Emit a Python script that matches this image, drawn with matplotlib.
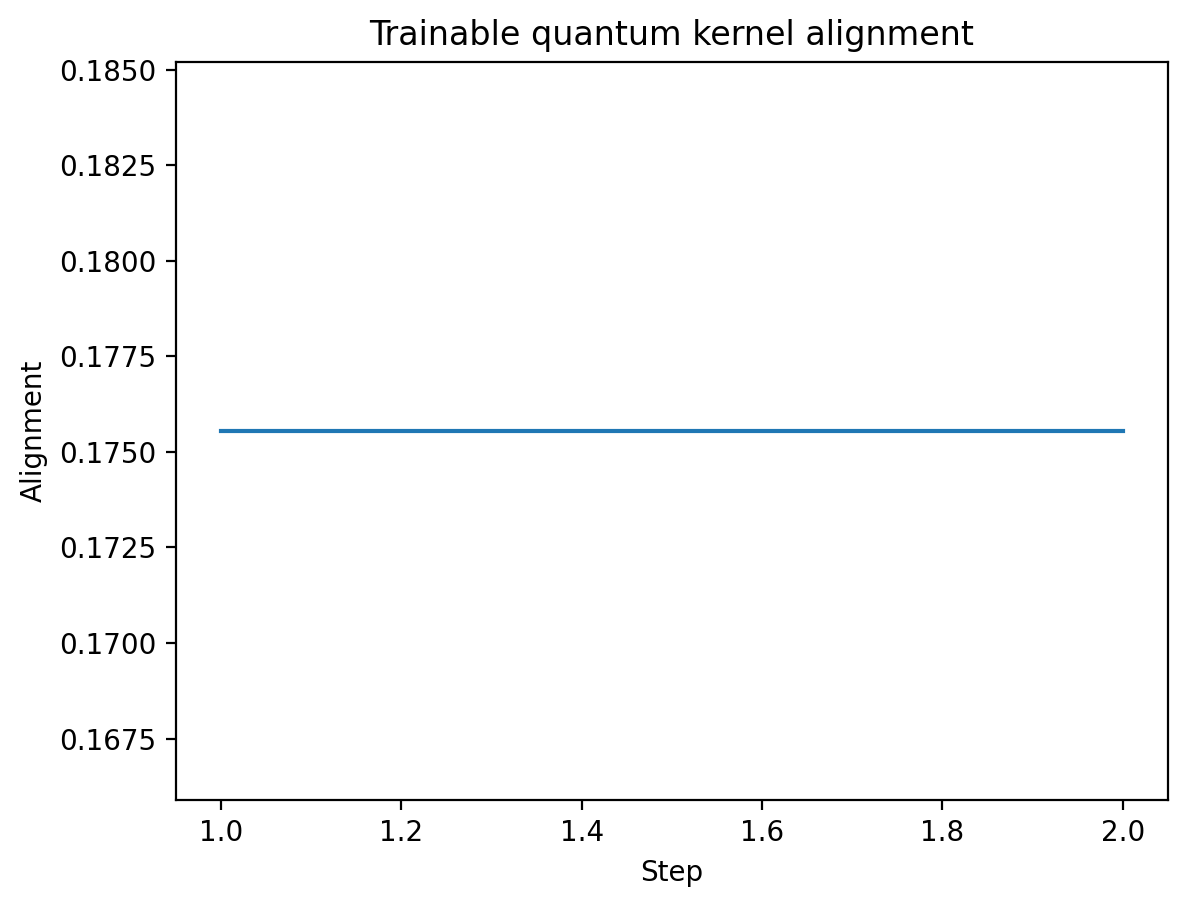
import matplotlib
matplotlib.use("Agg")
import matplotlib.pyplot as plt

steps = [1, 2]
alignment = [0.17555, 0.17555]

fig = plt.figure(figsize=(1187 / 200, 908 / 200), dpi=200)
ax = fig.add_subplot(111)
fig.subplots_adjust(left=0.148, right=0.984, top=0.932, bottom=0.119)
ax.plot(steps, alignment)
ax.set_title("Trainable quantum kernel alignment")
ax.set_xlabel("Step")
ax.set_ylabel("Alignment")
fig.savefig("out.png")
